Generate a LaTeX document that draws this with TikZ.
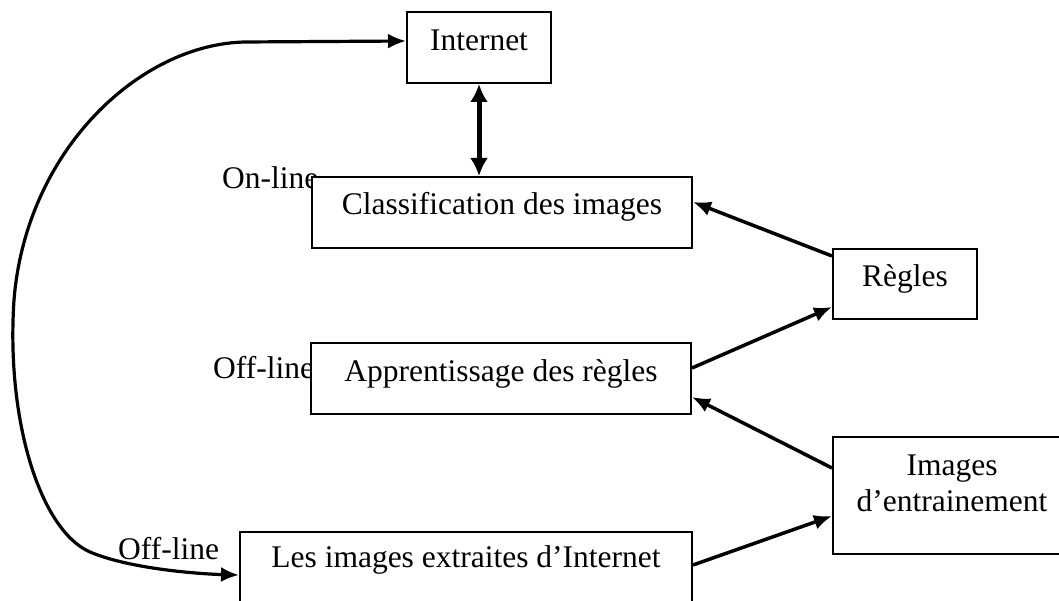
\documentclass[tikz,border=0pt]{standalone}
\usepackage{fontspec}
\setmainfont{Liberation Serif}
\usetikzlibrary{arrows.meta,calc}
\begin{document}
\begin{tikzpicture}[x=1pt,y=-1pt,
  box/.style={draw, line width=2pt, fill=white, inner sep=0pt},
  txt/.style={font=\fontsize{31.5}{36}\selectfont, inner sep=0pt},
  head/.tip={Latex[length=18pt,width=15pt]},
  link/.style={line width=3.5pt, -head},
]
\useasboundingbox (0,0) rectangle (1059,601);
\clip (0,0) rectangle (1059,601);

% side labels (partly hidden by the boxes drawn over them)
\node[txt, anchor=base west] (lon)  at (222,189) {On-line};
\node[txt, anchor=base west] (loff) at (213,378) {Off-line};
\node[txt, anchor=base west] (lext) at (118,559) {Off-line};

% boxes
\node[box, minimum width=144pt, minimum height=71pt]  (internet)  at (479,47.5)  {};
\node[box, minimum width=380pt, minimum height=71pt]  (classif)   at (502,212.5) {};
\node[box, minimum width=144pt, minimum height=70pt]  (regles)    at (905,284)   {};
\node[box, minimum width=380pt, minimum height=71pt]  (apprent)   at (501,378.5) {};
\node[box, minimum width=238pt, minimum height=117pt] (training)  at (952,495.5) {};
\node[box, minimum width=452pt, minimum height=88pt]  (extraites) at (466,576)   {};

% box texts
\node[txt, anchor=base] (tinternet) at (479,51)  {Internet};
\node[txt, anchor=base] (tclassif)  at (502,215) {Classification des images};
\node[txt, anchor=base] (tregles)   at (905,287) {Règles};
\node[txt, anchor=base] (tapprent)  at (501,381) {Apprentissage des règles};
\node[txt, anchor=base] (ttrain1)   at (952,475) {Images};
\node[txt, anchor=base] (ttrain2)   at (952,511) {d'entrainement};
\node[txt, anchor=base] (textr)     at (466,567) {Les images extraites d'Internet};

% connectors
\draw[line width=5pt, {Latex[length=18pt,width=18pt]}-{Latex[length=18pt,width=18pt]}]
  (internet.south) -- (internet.south |- classif.north);
\draw[link] ($(regles.north west)+(0,8)$) -- ($(classif.north east)+(0,26)$);
\draw[link] ($(apprent.north east)+(0,26)$) -- ($(regles.north west)+(0,59)$);
\draw[link] ($(training.north west)+(0,32)$) -- ($(apprent.north east)+(0,55)$);
\draw[link] ($(extraites.north east)+(0,34)$) -- ($(training.north west)+(0,80)$);

% loop from the Internet box down to the extracted images
\coordinate (loopstart) at (245,42);
\draw[line width=3.2pt, head-head]
  ($(internet.north west)+(0,30)$) -- (loopstart)
  .. controls (140,44) and (26,150) .. (14,300)
  .. controls (6,420) and (40,530) .. (90,552)
  .. controls (130,569) and (200,574) .. ($(extraites.north west)+(0,44)$);
\end{tikzpicture}
\end{document}
